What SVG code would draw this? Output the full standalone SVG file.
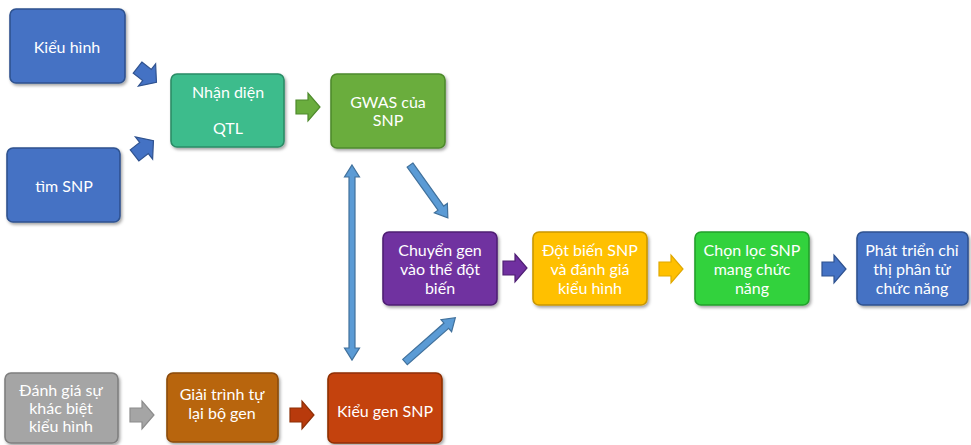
<svg xmlns="http://www.w3.org/2000/svg" width="971" height="445" viewBox="0 0 971 445">
<defs>
<filter id="sh" x="-10%" y="-10%" width="130%" height="130%">
<feDropShadow dx="1.5" dy="2" stdDeviation="1.5" flood-color="#000" flood-opacity="0.35"/>
</filter>
<path id="blk" d="M-12,-7 L0,-7 L0,-14 L12,0 L0,14 L0,7 L-12,7 Z"/>
</defs>
<style>
.box{stroke-width:1.6;filter:url(#sh)}
.t{font-family:Lato,"Noto Sans","DejaVu Sans",sans-serif;font-size:16px;fill:#fff;text-anchor:middle;dominant-baseline:central}
.thin{fill:#5B9BD5;stroke:#41719C;stroke-width:1.2}
.ba{stroke-width:1.2}
</style>
<rect width="971" height="445" fill="#fff"/>

<g id="n-kieuhinh">
<rect class="box" x="10" y="9" width="115" height="74" rx="6" fill="#4472C4" stroke="#2F528F"/>
<text class="t" x="67" y="46">Kiểu hình</text>
</g>
<g id="n-timsnp">
<rect class="box" x="7" y="148" width="113" height="74" rx="6" fill="#4472C4" stroke="#2F528F"/>
<text class="t" x="64" y="185">tìm SNP</text>
</g>
<g id="n-qtl">
<rect class="box" x="171" y="74" width="113" height="73" rx="6" fill="#3DBC8C" stroke="#2A8C66"/>
<text class="t" x="228" y="91">Nhận diện</text>
<text class="t" x="228" y="127">QTL</text>
</g>
<g id="n-gwas">
<rect class="box" x="331" y="74" width="114" height="74" rx="6" fill="#6AAD3E" stroke="#4E8A2C"/>
<text class="t" x="388" y="101">GWAS của</text>
<text class="t" x="388" y="119">SNP</text>
</g>
<g id="n-chuyengen">
<rect class="box" x="383" y="232" width="114" height="73" rx="6" fill="#7030A0" stroke="#4F1F73"/>
<text class="t" x="440" y="249">Chuyển gen</text>
<text class="t" x="440" y="268">vào thể đột</text>
<text class="t" x="440" y="287">biến</text>
</g>
<g id="n-dotbien">
<rect class="box" x="533" y="232" width="114" height="73" rx="6" fill="#FFC000" stroke="#C99700"/>
<text class="t" x="590" y="249">Đột biến SNP</text>
<text class="t" x="590" y="268">và đánh giá</text>
<text class="t" x="590" y="287">kiểu hình</text>
</g>
<g id="n-chonloc">
<rect class="box" x="695" y="232" width="114" height="73" rx="6" fill="#33D23E" stroke="#22A02B"/>
<text class="t" x="752" y="249">Chọn lọc SNP</text>
<text class="t" x="752" y="268">mang chức</text>
<text class="t" x="752" y="287">năng</text>
</g>
<g id="n-phattrien">
<rect class="box" x="857" y="232" width="111" height="73" rx="6" fill="#4472C4" stroke="#2F528F"/>
<text class="t" x="912" y="249">Phát triển chỉ</text>
<text class="t" x="912" y="268">thị phân tử</text>
<text class="t" x="912" y="287">chức năng</text>
</g>
<g id="n-danhgia">
<rect class="box" x="5" y="373" width="113" height="70" rx="6" fill="#A5A5A5" stroke="#7F7F7F"/>
<text class="t" x="61" y="389">Đánh giá sự</text>
<text class="t" x="61" y="407">khác biệt</text>
<text class="t" x="61" y="425">kiểu hình</text>
</g>
<g id="n-giaitrinhtu">
<rect class="box" x="167" y="373" width="111" height="69" rx="6" fill="#B8650F" stroke="#8A4A08"/>
<text class="t" x="222" y="393">Giải trình tự</text>
<text class="t" x="222" y="412">lại bộ gen</text>
</g>
<g id="n-kieugen">
<rect class="box" x="328" y="373" width="114" height="70" rx="6" fill="#C4420C" stroke="#8E2F06"/>
<text class="t" x="385" y="410">Kiểu gen SNP</text>
</g>

<g id="connectors">
<use href="#blk" class="ba" fill="#4472C4" stroke="#2F528F" transform="translate(147,75) rotate(38)"/>
<use href="#blk" class="ba" fill="#4472C4" stroke="#2F528F" transform="translate(144,148) rotate(-38)"/>
<use href="#blk" class="ba" fill="#6AAD3E" stroke="#4E8A2C" transform="translate(308,107)"/>
<use href="#blk" class="ba" fill="#7030A0" stroke="#4F1F73" transform="translate(515,268)"/>
<use href="#blk" class="ba" fill="#FFC000" stroke="#E0A800" transform="translate(671,269)"/>
<use href="#blk" class="ba" fill="#4472C4" stroke="#2F528F" transform="translate(834,269)"/>
<use href="#blk" class="ba" fill="#A5A5A5" stroke="#8C8C8C" transform="translate(142,415)"/>
<use href="#blk" class="ba" fill="#B83A0C" stroke="#8E2F06" transform="translate(302,415)"/>
<path class="thin" d="M352,165 L359.5,177 L355,177 L355,348 L359.5,348 L352,360 L344.5,348 L349,348 L349,177 L344.5,177 Z"/>
<path class="thin" transform="translate(410,165) rotate(54.4)" d="M0,-3.5 L53,-3.5 L53,-8 L65,0 L53,8 L53,3.5 L0,3.5 Z"/>
<path class="thin" transform="translate(405,362) rotate(-41.3)" d="M0,-3.5 L55,-3.5 L55,-8 L67,0 L55,8 L55,3.5 L0,3.5 Z"/>
</g>
</svg>
